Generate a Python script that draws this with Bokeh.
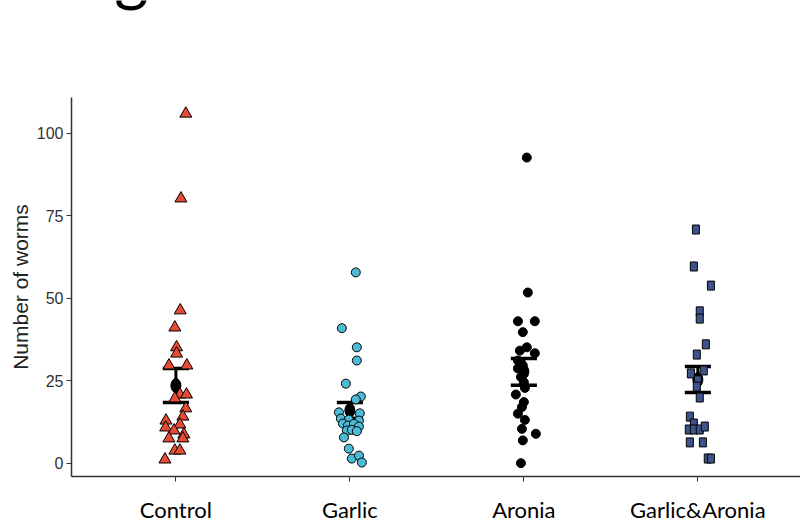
from bokeh.plotting import figure
from bokeh.models import Range1d, FixedTicker, Label
from bokeh.layouts import column
from bokeh.embed import file_html
from bokeh.resources import INLINE

# ---- data ----
categories = ["Control", "Garlic", "Aronia", "Garlic&Aronia"]

control_vals = [106, 80.3, 46.4, 41.2, 35.2, 33.3, 29.7, 29.7, 20.9, 20.9, 19.7, 16.7,
                14.2, 13.0, 10.9, 11.8, 10.0, 8.8, 7.6, 7.6, 3.9, 3.9, 1.2]
control_jit = [0.057, 0.029, 0.025, -0.006, 0.004, 0.004, -0.040, 0.063, 0.023, 0.061, -0.006, 0.057,
               0.040, -0.057, -0.059, 0.023, -0.011, 0.046, -0.040, 0.040, -0.006, 0.023, -0.063]

garlic_vals = [57.9, 41.0, 35.2, 31.2, 24.2, 20.3, 19.4, 15.5, 15.2, 13.6, 13.3, 13.0,
               12.1, 11.5, 12.0, 11.2, 10.0, 10.2, 9.8, 7.9, 4.5, 1.5, 2.4, 0.3]
garlic_jit = [0.034, -0.046, 0.040, 0.040, -0.023, 0.063, 0.034, -0.063, 0.057, -0.052, -0.006, 0.052,
              -0.040, -0.011, 0.023, 0.052, -0.017, 0.011, 0.040, -0.034, -0.006, 0.011, 0.052, 0.069]

aronia_vals = [92.7, 51.8, 43.1, 43.1, 39.8, 35.2, 34.2, 33.4, 31.2, 29.7, 28.8, 27.7,
               26.2, 24.6, 22.9, 20.9, 18.6, 17.1, 15.1, 13.2, 10.5, 9.0, 7.0, 0.1]
aronia_jit = [0.017, 0.023, -0.034, 0.063, -0.006, 0.017, -0.023, 0.063, -0.034, -0.006, -0.034, 0.0,
              -0.017, 0.0, 0.006, -0.046, 0.0, -0.011, -0.034, 0.006, -0.011, 0.069, -0.006, -0.017]

ga_vals = [70.9, 59.7, 53.9, 46.1, 43.9, 36.1, 33.0, 27.3, 28.2, 25.2, 23.3, 20.0,
           14.2, 12.1, 10.3, 10.3, 10.3, 11.2, 6.4, 6.4, 1.5, 1.5]
ga_jit = [-0.011, -0.023, 0.075, 0.011, 0.011, 0.046, -0.006, -0.040, 0.034, 0.0, -0.006, 0.011,
          -0.046, -0.023, -0.052, -0.023, 0.011, 0.040, -0.046, 0.029, 0.057, 0.075]

means = [23.6, 16.1, 27.8, 25.4]
se_low = [18.5, 13.7, 23.7, 21.5]
se_high = [28.8, 18.5, 31.8, 29.4]

y_ticks = [0, 25, 50, 75, 100]

x_range = Range1d(0.4, 4.59)

# ---- top strip holding the cropped panel letter ----
top = figure(width=800, height=97, output_backend="svg", toolbar_location=None,
             x_range=x_range, y_range=Range1d(0, 97),
             x_axis_type=None, y_axis_type=None, min_border=0)
top.outline_line_color = None
top.grid.visible = False
top.background_fill_color = "white"
top.border_fill_color = "white"
top.add_layout(Label(x=0.745, y=84.5, text="g", text_font="Lato", text_font_size="66px",
                     text_align="center", text_baseline="bottom", text_color="black"))

# ---- main chart ----
p = figure(width=800, height=429, output_backend="svg", toolbar_location=None,
           x_range=x_range, y_range=Range1d(-3.94, 110.9),
           min_border_left=71, min_border_right=0, min_border_top=0, min_border_bottom=50)
p.outline_line_color = None
p.xgrid.visible = False
p.ygrid.visible = False
p.background_fill_color = "white"
p.border_fill_color = "white"

pos = [1, 2, 3, 4]

# summary: error bars and mean
cap = 0.075
p.segment(x0=pos, y0=se_low, x1=pos, y1=se_high, line_color="black", line_width=3)
p.segment(x0=[x - cap for x in pos], y0=se_high, x1=[x + cap for x in pos], y1=se_high,
          line_color="black", line_width=3.5)
p.segment(x0=[x - cap for x in pos], y0=se_low, x1=[x + cap for x in pos], y1=se_low,
          line_color="black", line_width=3.5)
p.ellipse(x=pos, y=means, width=10, height=14, width_units="screen", height_units="screen",
          fill_color="black", line_color="black")

# points
def xs(center, jit):
    return [center + j for j in jit]

p.scatter(xs(1, control_jit), control_vals, marker="triangle", size=12,
          fill_color="#E64B35", line_color="black", line_width=1)
p.scatter(xs(2, garlic_jit), garlic_vals, marker="circle", size=9,
          fill_color="#4DBBD5", line_color="black", line_width=1)
p.scatter(xs(3, aronia_jit), aronia_vals, marker="circle", size=9,
          fill_color="black", line_color="black", line_width=1)
p.rect(xs(4, ga_jit), ga_vals, width=7, height=9, width_units="screen", height_units="screen",
       fill_color="#3C5488", line_color="black", line_width=1)

# axes
p.xaxis.ticker = FixedTicker(ticks=pos)
p.xaxis.major_label_overrides = {i + 1: c for i, c in enumerate(categories)}
p.xaxis.minor_tick_line_color = None
p.xaxis.major_tick_out = 5
p.xaxis.major_tick_in = 0
p.xaxis.major_label_text_font = "Lato"
p.xaxis.major_label_text_font_size = "22px"
p.xaxis.major_label_text_color = "black"
p.xaxis.major_label_standoff = 14
p.xaxis.axis_line_width = 1.5
p.xaxis.axis_line_color = "#333333"
p.xaxis.major_tick_line_color = "#333333"

p.yaxis.ticker = FixedTicker(ticks=y_ticks)
p.yaxis.minor_tick_line_color = None
p.yaxis.major_tick_out = 5
p.yaxis.major_tick_in = 0
p.yaxis.major_label_text_font = "Liberation Sans"
p.yaxis.major_label_text_font_size = "16px"
p.yaxis.major_label_text_color = "#333333"
p.yaxis.major_label_standoff = 3
p.yaxis.axis_line_width = 1.5
p.yaxis.axis_line_color = "#333333"
p.yaxis.major_tick_line_color = "#333333"
p.yaxis.axis_label = "Number of worms"
p.yaxis.axis_label_text_font = "Liberation Sans"
p.yaxis.axis_label_text_font_size = "21px"
p.yaxis.axis_label_text_font_style = "normal"
p.yaxis.axis_label_text_color = "#222222"
p.yaxis.axis_label_standoff = 2

layout = column(top, p, spacing=0)
open("out.html", "w").write(file_html(layout, INLINE))
